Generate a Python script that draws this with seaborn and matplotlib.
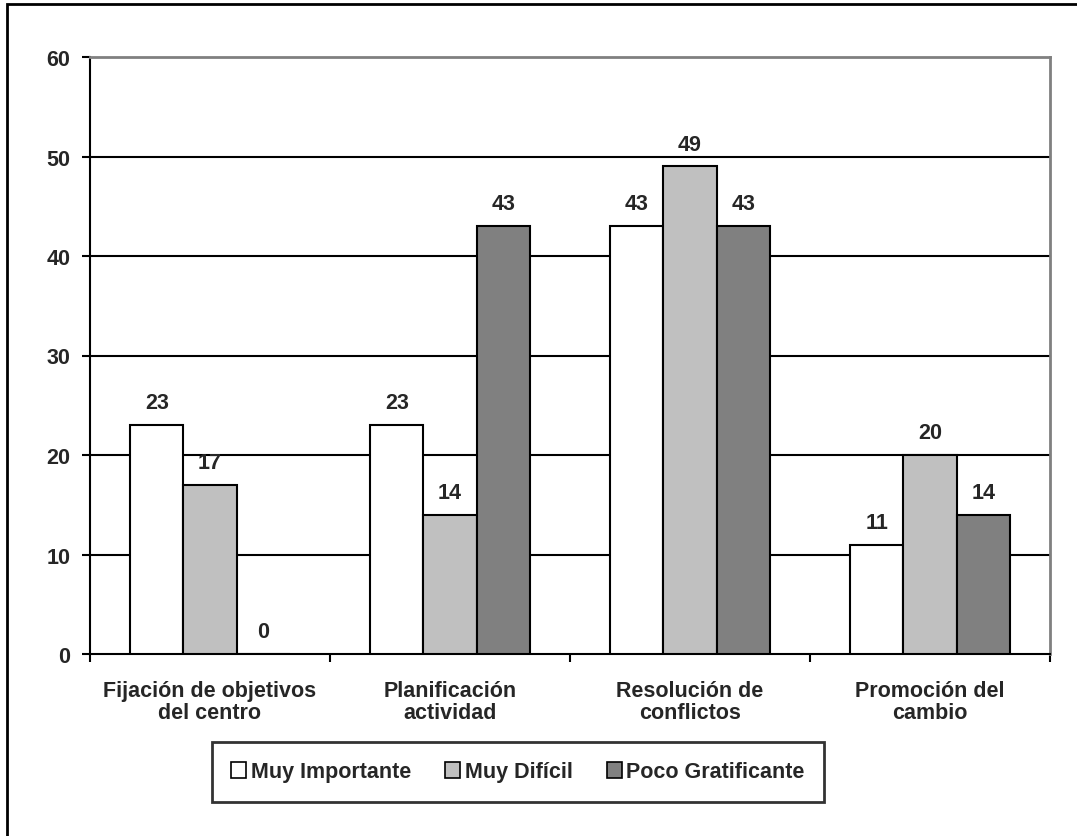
import pandas as pd
import seaborn as sn
import matplotlib.pyplot as plt
from matplotlib.patches import Patch, Rectangle

categorias = ['Fijación de objetivos\ndel centro', 'Planificación\nactividad',
              'Resolución de\nconflictos', 'Promoción del\ncambio']
series = ['Muy Importante', 'Muy Difícil', 'Poco Gratificante']
muy_importante = [23, 23, 43, 11]
muy_dificil = [17, 14, 49, 20]
poco_gratificante = [0, 43, 43, 14]
colores = ['#FFFFFF', '#C0C0C0', '#808080']

df = pd.DataFrame({
    'categoria': categorias * 3,
    'serie': [series[0]] * 4 + [series[1]] * 4 + [series[2]] * 4,
    'valor': muy_importante + muy_dificil + poco_gratificante,
})

sn.set_style('white')
plt.rcParams['font.family'] = ['Liberation Sans', 'DejaVu Sans']
plt.rcParams['font.weight'] = 'bold'

fig = plt.figure(figsize=(10.77, 8.37), dpi=100)
ax = fig.add_axes([90 / 1077, 182 / 837, 960 / 1077, 597 / 837])

sn.barplot(data=df, x='categoria', y='valor', hue='serie', palette=colores,
           width=0.666, gap=0, edgecolor='black', linewidth=1.5,
           legend=False, ax=ax, zorder=3)

for cont in ax.containers:
    for bar in cont:
        h = bar.get_height()
        ax.annotate(f'{h:.0f}', (bar.get_x() + bar.get_width() / 2, h),
                    xytext=(0, 16), textcoords='offset points',
                    ha='center', va='center', fontsize=15.5, fontweight='bold')

ax.set_ylim(0, 60)
ax.set_xlim(-0.5, 3.5)
ax.set_yticks(range(0, 61, 10))
ax.set_xlabel('')
ax.set_ylabel('')
for y in range(10, 60, 10):
    ax.axhline(y, color='black', linewidth=1.5, zorder=1)

for s in ['left', 'bottom']:
    ax.spines[s].set_color('black')
    ax.spines[s].set_linewidth(1.5)
for s in ['top', 'right']:
    ax.spines[s].set_color('#808080')
    ax.spines[s].set_linewidth(2)

ax.tick_params(axis='y', direction='out', length=6, width=1.5, color='black',
               left=True, labelsize=15.5, pad=8)
ax.tick_params(axis='x', which='major', length=0, labelsize=15.5, pad=19)
ax.set_xticks([-0.5, 0.5, 1.5, 2.5, 3.5], minor=True)
ax.tick_params(axis='x', which='minor', direction='out', length=6, width=1.5,
               color='black', bottom=True)
for t in ax.get_xticklabels() + ax.get_yticklabels():
    t.set_fontweight('bold')
for t in ax.get_xticklabels():
    t.set_linespacing(1.05)

handles = [Patch(facecolor=c, edgecolor='black', linewidth=1.2) for c in colores]
leg = fig.legend(handles, series, ncol=3, loc='center',
                 bbox_to_anchor=(518 / 1077, 1 - 773 / 837),
                 prop={'size': 15.5, 'weight': 'bold'}, frameon=True,
                 fancybox=False, edgecolor='black', handlelength=0.7,
                 handleheight=0.7, handletextpad=0.2, columnspacing=1.6,
                 borderpad=0.9, borderaxespad=0)
leg.get_frame().set_linewidth(2)

fig.patches.append(Rectangle((7 / 1077, -0.05), 1.1, 1 - 5 / 837 + 0.05,
                             transform=fig.transFigure, fill=False,
                             edgecolor='black', linewidth=2))

plt.savefig('out.png', dpi=100)
